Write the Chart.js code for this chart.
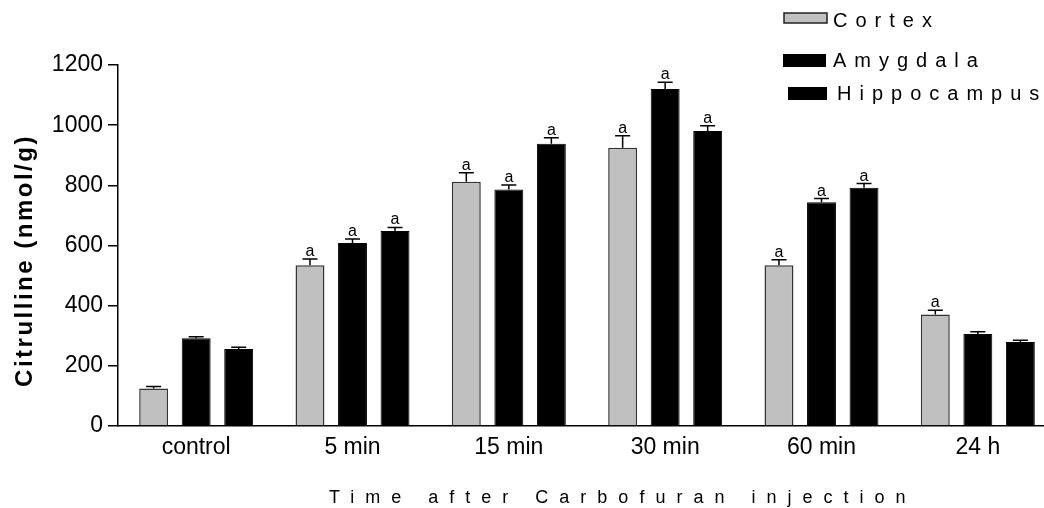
<!DOCTYPE html>
<html>
<head>
<meta charset="utf-8">
<script src="https://cdn.jsdelivr.net/npm/chart.js@4.4.1/dist/chart.umd.min.js"></script>
<style>
  html, body { margin: 0; padding: 0; background: #fff; overflow: hidden; }
  /* the figure is cropped on the right: the x axis runs past the window edge */
  #wrap { position: relative; width: 1056px; height: 508px; }
</style>
</head>
<body>
<div id="wrap"><canvas id="citrullineChart"></canvas></div>
<script>
const categories = ['control', '5 min', '15 min', '30 min', '60 min', '24 h'];
const seriesNames = ['Cortex', 'Amygdala', 'Hippocampus'];

const cortex = [125, 534, 812, 925, 534, 371];
const amygdala = [292, 608, 786, 1120, 744, 306];
const hippocampus = [256, 648, 938, 981, 792, 279];

// upper half of the error bars (SEM)
const cortexErr = [6, 21, 30, 40, 19, 14];
const amygdalaErr = [5, 14, 15, 23, 12, 7];
const hippocampusErr = [6, 12, 20, 17, 14, 6];

// significance letters over the bars
const cortexMarks = ['', 'a', 'a', 'a', 'a', 'a'];
const amygdalaMarks = ['', 'a', 'a', 'a', 'a', ''];
const hippocampusMarks = ['', 'a', 'a', 'a', 'a', ''];

const yTicks = [0, 200, 400, 600, 800, 1000, 1200];

const errors = [cortexErr, amygdalaErr, hippocampusErr];
const marks = [cortexMarks, amygdalaMarks, hippocampusMarks];
const fills = ['#c0c0c0', '#000000', '#000000'];
const FONT = '"Liberation Sans", Arial, Helvetica, sans-serif';

// legend boxes as placed in the figure (hand set, not aligned)
const legendBoxes = [
  { x: 784, y: 13, w: 43, h: 10, tx: 833, ty: 27 },
  { x: 783, y: 54, w: 43, h: 13, tx: 833, ty: 67 },
  { x: 788, y: 87, w: 39, h: 13, tx: 837, ty: 100 }
];

const extras = {
  id: 'extras',
  afterDatasetsDraw(chart) {
    const ctx = chart.ctx;
    const y = chart.scales.y;
    ctx.save();
    ctx.strokeStyle = '#000';
    ctx.fillStyle = '#000';
    ctx.lineWidth = 1.5;
    ctx.font = '16px ' + FONT;
    ctx.textAlign = 'center';
    ctx.textBaseline = 'alphabetic';
    chart.data.datasets.forEach((ds, di) => {
      chart.getDatasetMeta(di).data.forEach((bar, i) => {
        const top = y.getPixelForValue(ds.data[i]);
        const capY = y.getPixelForValue(ds.data[i] + errors[di][i]);
        ctx.beginPath();
        ctx.moveTo(bar.x, top);
        ctx.lineTo(bar.x, capY);
        ctx.moveTo(bar.x - 7.5, capY);
        ctx.lineTo(bar.x + 7.5, capY);
        ctx.stroke();
        if (marks[di][i]) ctx.fillText(marks[di][i], bar.x, capY - 3);
      });
    });
    ctx.restore();
  },
  afterDraw(chart) {
    const ctx = chart.ctx;
    const area = chart.chartArea;
    ctx.save();

    // legend
    ctx.font = '20px ' + FONT;
    ctx.letterSpacing = '8px';
    ctx.textAlign = 'left';
    ctx.textBaseline = 'alphabetic';
    legendBoxes.forEach((b, i) => {
      ctx.fillStyle = fills[i];
      ctx.fillRect(b.x, b.y, b.w, b.h);
      if (i === 0) {
        ctx.strokeStyle = '#222';
        ctx.lineWidth = 1.5;
        ctx.strokeRect(b.x, b.y, b.w, b.h);
      }
      ctx.fillStyle = '#000';
      ctx.fillText(seriesNames[i], b.tx, b.ty);
    });

    // x axis title
    ctx.font = '18px ' + FONT;
    ctx.letterSpacing = '11px';
    ctx.textAlign = 'left';
    ctx.fillText('Time after Carbofuran injection', 329, 503);

    // y axis title
    ctx.font = 'bold 24px ' + FONT;
    ctx.letterSpacing = '2.5px';
    ctx.textAlign = 'center';
    ctx.translate(25, (area.top + area.bottom) / 2 + 15);
    ctx.rotate(-Math.PI / 2);
    ctx.textBaseline = 'middle';
    ctx.fillText('Citrulline (nmol/g)', 0, 0);
    ctx.restore();
  }
};

const datasets = [cortex, amygdala, hippocampus].map((values, i) => ({
  label: seriesNames[i],
  data: values,
  backgroundColor: fills[i],
  borderColor: i === 0 ? '#333333' : '#000000',
  borderWidth: i === 0 ? 1.5 : 1,
  barPercentage: 0.68,
  categoryPercentage: 0.816
}));

new Chart(document.getElementById('citrullineChart'), {
  type: 'bar',
  data: { labels: categories, datasets },
  options: {
    responsive: true,
    maintainAspectRatio: false,
    animation: false,
    layout: { padding: { top: 65, right: 0, bottom: 0, left: 0 } },
    plugins: {
      legend: { display: false },
      tooltip: { enabled: false }
    },
    scales: {
      x: {
        grid: { drawOnChartArea: false, drawTicks: false },
        border: { color: '#000', width: 1.5 },
        ticks: { color: '#000', font: { family: FONT, size: 23 }, padding: 8, maxRotation: 0 },
        afterFit: (s) => { s.height = 82; }
      },
      y: {
        min: 0,
        max: 1200,
        afterBuildTicks: (s) => { s.ticks = yTicks.map(v => ({ value: v })); },
        grid: { drawOnChartArea: false, drawTicks: true, tickLength: 10, color: '#000', lineWidth: 1.5 },
        border: { color: '#000', width: 1.5 },
        ticks: { color: '#000', font: { family: FONT, size: 23 }, padding: 5, callback: (v) => String(v) },
        afterFit: (s) => { s.width = 118; }
      }
    }
  },
  plugins: [extras]
});
</script>
</body>
</html>
